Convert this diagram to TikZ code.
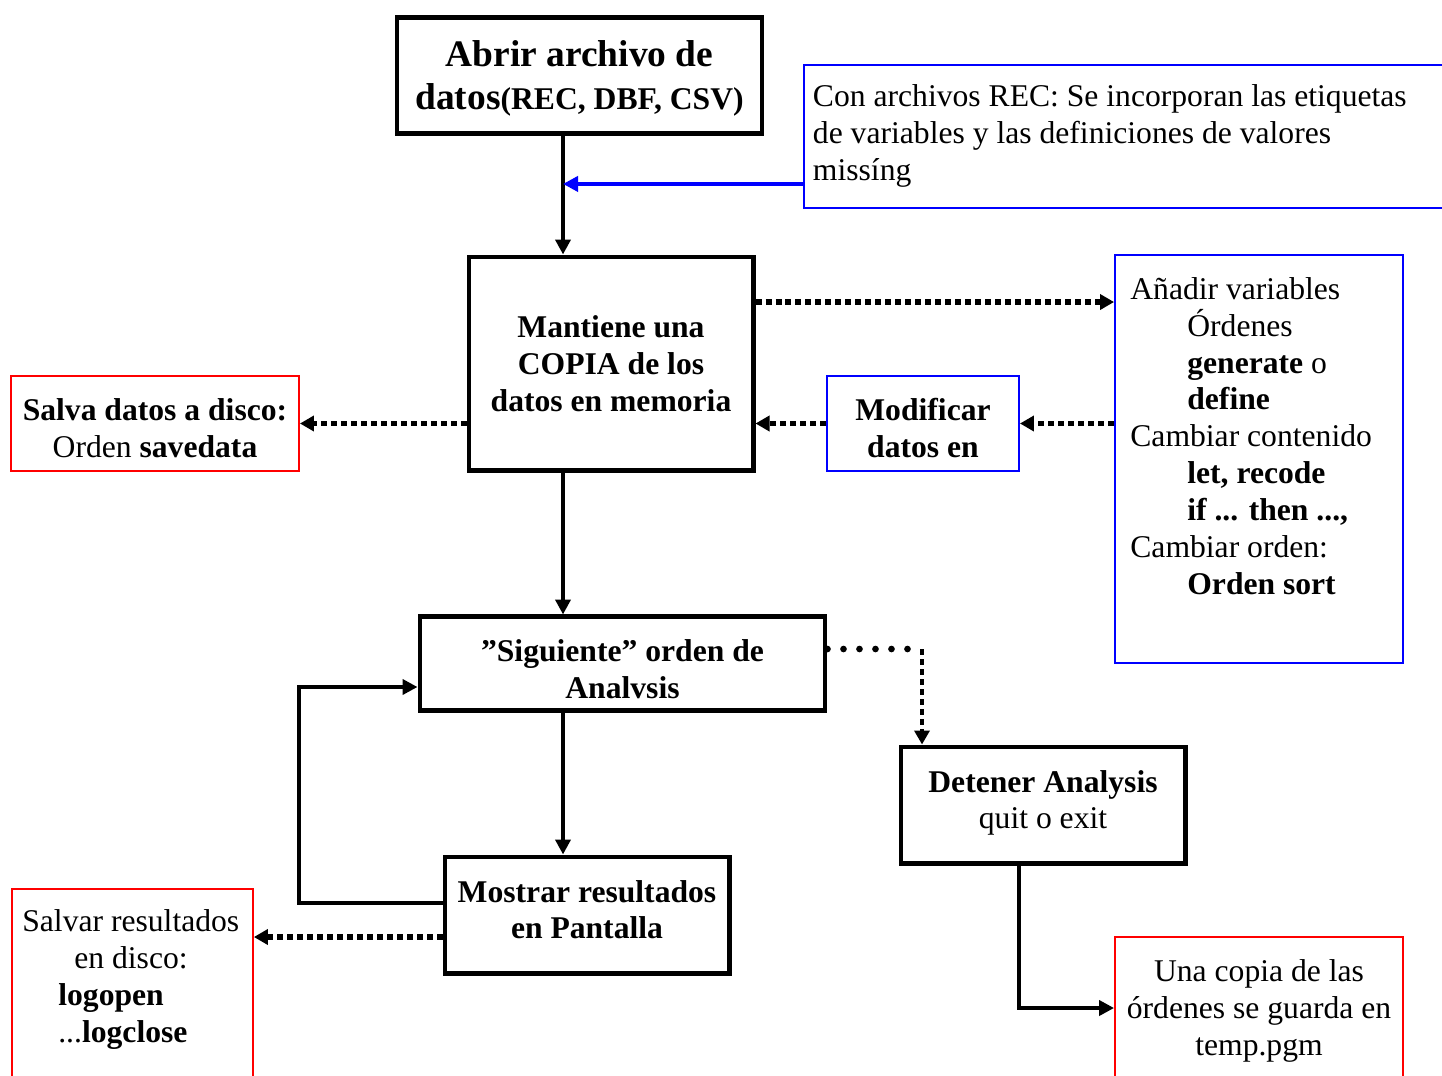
\documentclass[tikz,border=0pt]{standalone}
\usepackage{fontspec}
\setmainfont{Liberation Serif}
\usetikzlibrary{arrows.meta}

% invisible rule: pushes the first line of a box down
\newcommand{\lift}[1]{\rule{0pt}{#1}}

\tikzset{
  every node/.style={font=\fontsize{18}{21}\selectfont},
  struts/.style={execute at begin node=\strut, execute at end node=\strut},
  blackbox/.style={draw, line width=2.3pt, align=center, inner sep=0pt, struts},
  bluebox/.style={draw=blue, line width=1.1pt, inner sep=0pt, struts},
  redbox/.style={draw=red, line width=1.1pt, inner sep=0pt, align=center, struts},
  solidarrow/.style={line width=2.3pt, -{Triangle[length=0.3cm,width=0.3cm]}},
  bluearrow/.style={solidarrow, blue},
  dotarrow/.style={line width=3pt, dash pattern=on 0.12cm off 0.08cm, -{Triangle[length=0.28cm,width=0.3cm]}},
  rounddots/.style={line width=3.8pt, line cap=round, dash pattern=on 0pt off 0.32cm},
}

\begin{document}
\begin{tikzpicture}[x=0.02cm, y=-0.02cm]
    \useasboundingbox (0,0) rectangle (1442,1075);

    % boxes
    \node[blackbox, minimum width=7.3cm, minimum height=2.32cm, font=\fontsize{21.3}{24.5}\selectfont\bfseries] (abrir) at (579.5,75.5) {\lift{0.76cm}Abrir archivo de\\datos{\fontsize{18}{21}\selectfont(REC, DBF, CSV)}};
    \node[bluebox, anchor=north west, minimum height=2.86cm, text width=12.7cm, align=flush left, inner xsep=0.18cm] (rec) at (803,64) {Con archivos REC: Se incorporan las etiquetas\\de variables y las definiciones de valores\\missíng};
    \node[blackbox, minimum width=5.7cm, minimum height=4.28cm, font=\fontsize{18}{21}\selectfont\bfseries] (mant) at (611,363.5) {\lift{0.66cm}Mantiene una\\COPIA de los\\datos en memoria};
    \node[bluebox, minimum width=5.76cm, minimum height=8.16cm] (anadir) at (1259,459) {};
    \node[anchor=north west, align=left, inner sep=0pt] (anadirtxt) at (1130,277) {A\~nadir variables\\
        \hspace*{1.14cm}Órdenes\\
        \hspace*{1.14cm}\textbf{generate} o\\
        \hspace*{1.14cm}\textbf{define}\\
        Cambiar contenido\\
        \hspace*{1.14cm}\textbf{let, recode}\\
        \hspace*{1.14cm}\textbf{if ... then ...,}\\
        Cambiar orden:\\
        \hspace*{1.14cm}\textbf{Orden sort}};
    \node[bluebox, align=center, minimum width=3.84cm, minimum height=1.9cm, font=\fontsize{18}{21}\selectfont\bfseries] (modif) at (923,423.5) {\lift{0.84cm}Modificar\\datos en};
    \node[redbox, minimum width=5.76cm, minimum height=1.9cm] (salva) at (155,423.5) {\lift{0.83cm}\textbf{Salva datos a disco:}\\Orden \textbf{savedata}};
    \node[blackbox, minimum width=8.12cm, minimum height=1.88cm, font=\fontsize{18}{21}\selectfont\bfseries] (sig) at (622.5,663.5) {\lift{0.87cm}”Siguiente” orden de\\Analvsis};
    \node[blackbox, minimum width=5.7cm, minimum height=2.34cm] (det) at (1043,805) {\textbf{Detener Analysis}\\quit o exit};
    \node[redbox, minimum width=5.76cm, minimum height=2.84cm] (una) at (1259,1008) {\lift{0.63cm}Una copia de las\\órdenes se guarda en\\temp.pgm};
    \node[blackbox, minimum width=5.7cm, minimum height=2.34cm, font=\fontsize{18}{21}\selectfont\bfseries] (most) at (587,915) {Mostrar resultados\\en Pantalla};
    \node[redbox, anchor=north west, minimum width=4.82cm, minimum height=4.1cm] (salvar) at (11,888) {};
    \node[anchor=north west, align=left, inner sep=0pt] (salvartxt) at (22,909) {Salvar resultados\\
        \hspace*{1.04cm}en disco:\\
        \hspace*{0.72cm}\textbf{logopen}\\
        \hspace*{0.72cm}...\textbf{logclose}};

    % connectors
    \coordinate (spine) at ([xshift=-0.33cm]abrir.south);
    \draw[solidarrow] (spine) -- (spine |- mant.north);
    \draw[bluearrow] ([yshift=-0.95cm]rec.west) -- ([yshift=-0.95cm]rec.west -| spine);
    \draw[dotarrow] ([yshift=1.23cm]mant.east) -- ([yshift=1.23cm]mant.east -| anadir.west);
    \draw[dotarrow] (modif.east -| anadir.west) -- (modif.east);
    \draw[dotarrow] (modif.west) -- (modif.west -| mant.east);
    \draw[dotarrow] (salva.east -| mant.west) -- (salva.east);
    \draw[solidarrow] (spine |- mant.south) -- (spine |- sig.north);
    \draw[solidarrow] (spine |- sig.south) -- (spine |- most.north);
    \coordinate (turn) at (922,649);
    \draw[rounddots] ([yshift=0.29cm]sig.east) -- (turn);
    \draw[dotarrow, line width=2.4pt] (turn) -- (turn |- det.north);
    \draw[solidarrow] ([xshift=-0.48cm]det.south) |- (una.west);
    \draw[solidarrow] ([yshift=0.24cm]most.west) -- ++(-2.88cm,0) |- ([yshift=-0.47cm]sig.west);
    \draw[dotarrow] ([yshift=-0.44cm]most.west) -- ([yshift=-0.44cm]most.west -| salvar.east);
\end{tikzpicture}
\end{document}
